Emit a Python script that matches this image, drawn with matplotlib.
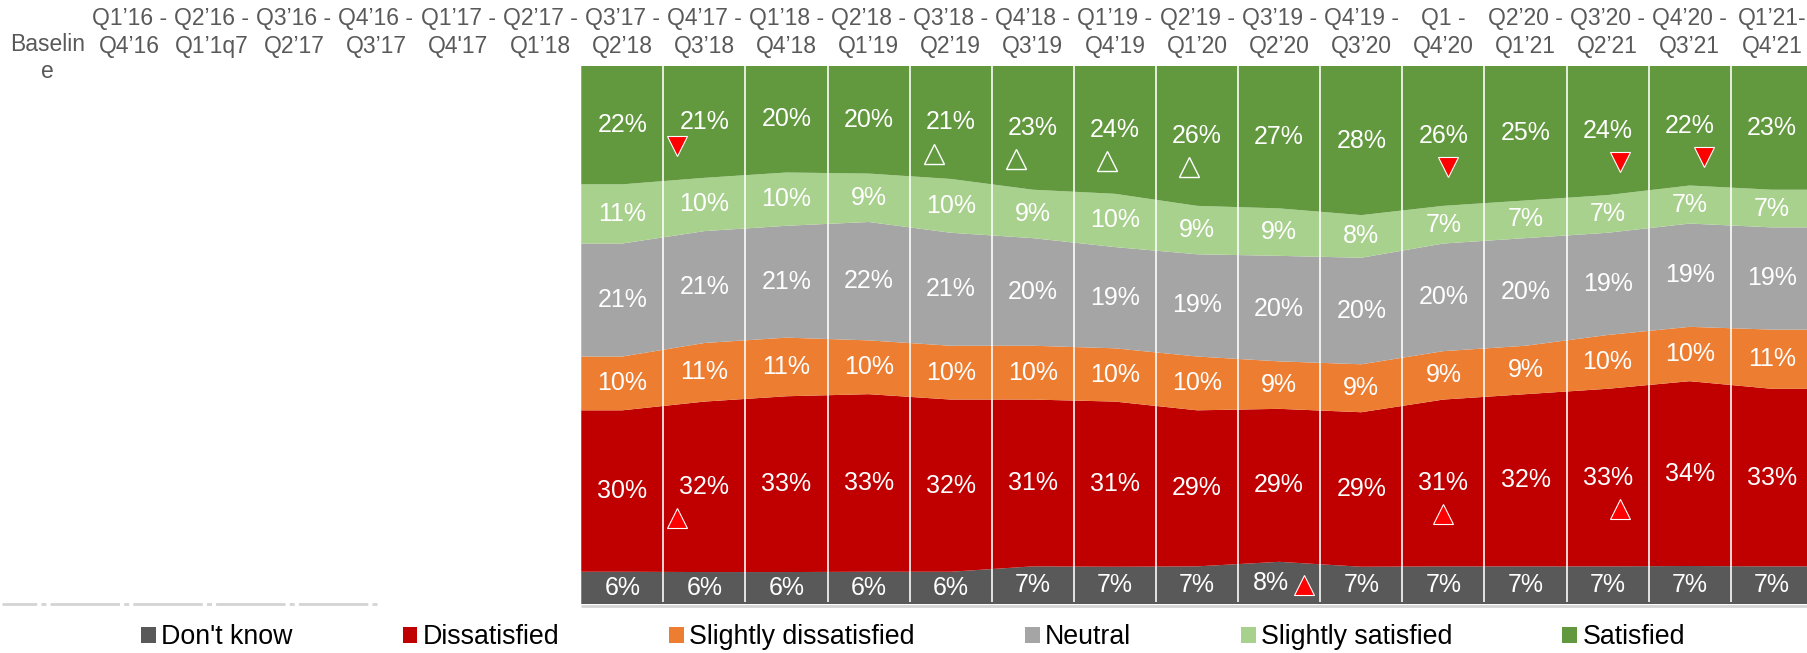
import numpy as np
import matplotlib
matplotlib.use('Agg')
import matplotlib.pyplot as plt
from matplotlib.patches import Patch

plt.rcParams['font.family'] = ['Liberation Sans', 'DejaVu Sans']
plt.rcParams['lines.scale_dashes'] = False

# column headers (first 7 periods carry no data)
periods = ['Baselin\ne', 'Q1’16 -\nQ4’16', 'Q2’16 -\nQ1’1q7', 'Q3’16 -\nQ2’17',
           'Q4’16 -\nQ3’17', "Q1’17 -\nQ4'17", 'Q2’17 -\nQ1’18', 'Q3’17 -\nQ2’18',
           'Q4’17 -\nQ3’18', 'Q1’18 -\nQ4’18', 'Q2’18 -\nQ1’19', 'Q3’18 -\nQ2’19',
           'Q4’18 -\nQ3’19', 'Q1’19 -\nQ4’19', 'Q2’19 -\nQ1’20', 'Q3’19 -\nQ2’20',
           'Q4’19 -\nQ3’20', 'Q1 -\nQ4’20', 'Q2’20 -\nQ1’21', 'Q3’20 -\nQ2’21',
           'Q4’20 -\nQ3’21', 'Q1’21-\nQ4’21']
first_data = 7

# series, bottom to top (percent)
series_names = ['Don\'t know', 'Dissatisfied', 'Slightly dissatisfied', 'Neutral',
                'Slightly satisfied', 'Satisfied']
dont_know = [6, 6, 6, 6, 6, 7, 7, 7, 8, 7, 7, 7, 7, 7, 7]
dissatisfied = [30, 32, 33, 33, 32, 31, 31, 29, 29, 29, 31, 32, 33, 34, 33]
slightly_dissatisfied = [10, 11, 11, 10, 10, 10, 10, 10, 9, 9, 9, 9, 10, 10, 11]
neutral = [21, 21, 21, 22, 21, 20, 19, 19, 20, 20, 20, 20, 19, 19, 19]
slightly_satisfied = [11, 10, 10, 9, 10, 9, 10, 9, 9, 8, 7, 7, 7, 7, 7]
satisfied = [22, 21, 20, 20, 21, 23, 24, 26, 27, 28, 26, 25, 24, 22, 23]

# significance flags: (series, period index, kind)
sig_series = ['Satisfied'] * 8 + ['Dissatisfied'] * 3 + ["Don't know"]
sig_period = [8, 11, 12, 13, 14, 17, 19, 20, 8, 17, 19, 15]
sig_kind = ['down', 'hollow', 'hollow', 'hollow', 'hollow', 'down', 'down', 'down',
            'up', 'up', 'up', 'up']

colors = ['#595959', '#C00000', '#ED7D31', '#A5A5A5', '#A9D18E', '#62993E']

values = np.array([dont_know, dissatisfied, slightly_dissatisfied, neutral,
                   slightly_satisfied, satisfied], dtype=float)
shares = values / values.sum(axis=0) * 100
x = np.arange(first_data, len(periods))
xs = np.r_[x[0] - 0.5, x, x[-1] + 0.5]
ys = np.hstack([shares[:, :1], shares, shares[:, -1:]])

fig = plt.figure(figsize=(18.08, 6.53), dpi=100)
ax = fig.add_axes([0.0036, 0.075, 0.9991, 0.824])
ax.stackplot(xs, ys, colors=colors, linewidth=0)
ax.set_xlim(-0.5, len(periods) - 0.5)
ax.set_ylim(0, 100)
ax.axis('off')

# white separators between columns
ax.vlines(x[:-1] + 0.5, 0.3, 100, colors='white', linewidth=1.3, alpha=0.9)

# value labels at segment middles
tops = np.cumsum(shares, axis=0)
mids = tops - shares / 2
for s in range(values.shape[0]):
    for j, xi in enumerate(x):
        dx = -0.1 if (s == 0 and xi == 15) else 0
        ax.text(xi + dx, mids[s, j], f'{int(values[s, j])}%', color='white',
                fontsize=18, ha='center', va='center')

# significance triangles
dx_map = {8: -0.34, 11: -0.2, 12: -0.2, 13: -0.1, 14: -0.1, 17: 0.05, 19: 0.15, 20: 0.17}
for name, p, kind in zip(sig_series, sig_period, sig_kind):
    s = series_names.index(name)
    j = p - first_data
    if name == "Don't know":
        xm, ym = p + 0.3, mids[s, j] - 0.3
    else:
        xm = p + dx_map.get(p, 0)
        if name == 'Dissatisfied' and p == 17:
            xm = p
        ym = mids[s, j] - (4.5 if kind == 'down' and p == 8 else 5.8)
    if kind == 'down':
        ax.plot(xm, ym, marker='v', ms=14, mfc='#FF0000', mec='white', mew=0.8)
    elif kind == 'up':
        ax.plot(xm, ym, marker='^', ms=14, mfc='#FF0000', mec='white', mew=0.8)
    else:
        ax.plot(xm, ym, marker='^', ms=14, mfc='none', mec='white', mew=1.0)

# column headers
for i, lab in enumerate(periods):
    yl = 1.015 if i == 0 else 1.062
    ax.text(i, yl, lab, transform=ax.get_xaxis_transform(), ha='center', va='center',
            fontsize=16.5, color='#595959', linespacing=1.25)

# axis baseline
ax.hlines(0, -0.55, 4.05, colors='#D4D4D4', linewidth=2,
          linestyles=[(25, (50, 3, 3.6, 3))], clip_on=False)
ax.hlines(-0.35, x[0] - 0.5, x[-1] + 0.5, colors='#D4D4D4', linewidth=2, clip_on=False)

handles = [Patch(facecolor=c, edgecolor='none', label=n) for c, n in zip(colors, series_names)]
fig.legend(handles=handles, ncol=6, loc='center', bbox_to_anchor=(0.505, 0.024),
           frameon=False, fontsize=19.3, handlelength=0.55, handleheight=0.55,
           handletextpad=0.2, columnspacing=4.1)

fig.savefig('out.png', dpi=100)
